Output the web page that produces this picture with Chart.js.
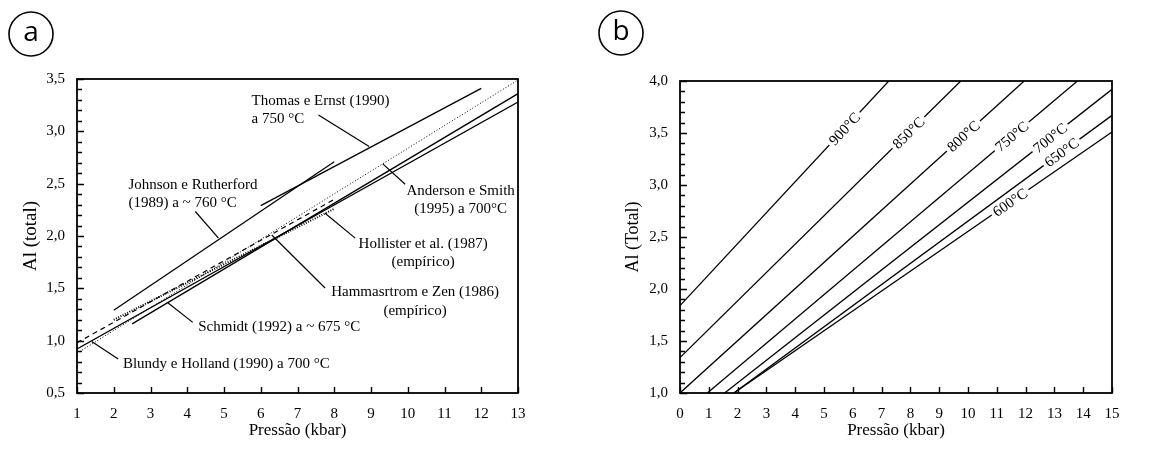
<!DOCTYPE html>
<html>
<head>
<meta charset="utf-8">
<script src="https://cdn.jsdelivr.net/npm/chart.js@4.4.0/dist/chart.umd.min.js"></script>
<style>
  body { margin: 0; background: #fff; width: 1166px; height: 450px; position: relative; overflow: hidden; }
  canvas { position: absolute; top: 0; }
</style>
</head>
<body>
<canvas id="chartA" width="583" height="450" style="left:0"></canvas>
<canvas id="chartB" width="583" height="450" style="left:583px"></canvas>
<script>
// painel a: geobarômetros de Al em hornblenda (P em kbar, Al total)
const nomesA = ['Thomas e Ernst (1990)', 'Johnson e Rutherford (1989)', 'Anderson e Smith (1995)',
                'Hollister et al. (1987)', 'Hammarstrom e Zen (1986)', 'Schmidt (1992)', 'Blundy e Holland (1990)'];
const pressaoA = [[6, 12], [2, 8], [1, 13], [2, 8], [1, 8], [2.5, 13], [1, 13]];
const alA = [[2.29, 3.41], [1.29, 2.71], [0.88, 3.49], [1.20, 2.26], [0.98, 2.35], [1.16, 3.36], [0.92, 3.28]];

// painel b: isotermas (Anderson e Smith 1995)
const temperaturasB = ['900°C', '850°C', '800°C', '750°C', '700°C', '650°C', '600°C'];
const pressaoB = [[0, 7.25], [0, 9.75], [0, 11.95], [0.95, 13.8], [1.55, 15], [1.87, 15], [1.87, 15]];
const alB = [[1.84, 4.0], [1.34, 4.0], [1.0, 4.0], [1.0, 4.0], [1.0, 3.92], [1.0, 3.67], [1.0, 3.51]];

// estilo das linhas do painel a
const estilosA = [
  { borderWidth: 1.3, borderDash: [] },
  { borderWidth: 1.3, borderDash: [] },
  { borderWidth: 1, borderDash: [1, 2] },
  { borderWidth: 2, borderDash: [1, 1.5] },
  { borderWidth: 1.2, borderDash: [5, 4] },
  { borderWidth: 1.3, borderDash: [] },
  { borderWidth: 1.3, borderDash: [] }
];

// anotações do painel a (posições em coordenadas dos eixos)
const notasA = [
  { linhas: ['Thomas e Ernst (1990)', 'a 750 °C'], x: 5.75, y: [3.29, 3.115], align: 'left', seta: [[7.57, 3.157], [8.95, 2.854]] },
  { linhas: ['Johnson e Rutherford', '(1989) a ~ 760 °C'], x: 2.40, y: [2.49, 2.315], align: 'left', seta: [[4.22, 2.234], [4.85, 1.98]] },
  { linhas: ['Anderson e Smith', '(1995) a 700°C'], x: 11.44, y: [2.43, 2.257], align: 'center', seta: [[9.32, 2.689], [9.93, 2.495]] },
  { linhas: ['Hollister et al. (1987)', '(empírico)'], x: 10.42, y: [1.923, 1.747], align: 'center', seta: [[7.75, 2.218], [8.57, 1.98]] },
  { linhas: ['Hammasrtrom e Zen (1986)', '(empírico)'], x: 10.2, y: [1.46, 1.279], align: 'center', seta: [[6.30, 2.01], [7.75, 1.503]] },
  { linhas: ['Schmidt (1992) a ~ 675 °C'], x: 4.30, y: [1.127], align: 'left', seta: [[3.48, 1.36], [4.15, 1.175]] },
  { linhas: ['Blundy e Holland (1990) a 700 °C'], x: 2.25, y: [0.778], align: 'left', seta: [[1.40, 0.993], [2.12, 0.825]] }
];

// posição (pressão) do rótulo de cada isoterma
const posRotulosB = [5.71, 7.93, 9.84, 11.52, 12.85, 13.25, 11.46];

const serif = "'Liberation Serif', 'Times New Roman', serif";
Chart.defaults.color = '#000';
Chart.defaults.font.family = serif;

function ehMaior(v) {
  return Math.abs(v * 2 - Math.round(v * 2)) < 1e-6;
}
function virgula(v) {
  return ehMaior(v) ? v.toFixed(1).replace('.', ',') : '';
}

// moldura + ticks para dentro
const molduraPlugin = {
  id: 'moldura',
  afterDraw(chart) {
    const { ctx, chartArea: a, scales: { x, y } } = chart;
    ctx.save();
    ctx.strokeStyle = '#000';
    ctx.lineWidth = 1.4;
    ctx.beginPath();
    x.ticks.forEach(t => {
      const px = Math.round(x.getPixelForValue(t.value)) + 0.5;
      ctx.moveTo(px, a.bottom);
      ctx.lineTo(px, a.bottom - 6);
    });
    y.ticks.forEach(t => {
      const py = Math.round(y.getPixelForValue(t.value)) + 0.5;
      ctx.moveTo(a.left, py);
      ctx.lineTo(a.left + (ehMaior(t.value) ? 7 : 5), py);
    });
    ctx.stroke();
    ctx.lineWidth = 1.8;
    ctx.strokeRect(a.left, a.top, a.right - a.left, a.bottom - a.top);
    ctx.restore();
  }
};

// letra do painel dentro de um círculo
const letraPlugin = {
  id: 'letra',
  afterDraw(chart, args, opts) {
    const ctx = chart.ctx;
    ctx.save();
    ctx.beginPath();
    ctx.arc(opts.cx, opts.cy, 22, 0, Math.PI * 2);
    ctx.lineWidth = 1.6;
    ctx.strokeStyle = '#000';
    ctx.stroke();
    ctx.fillStyle = '#000';
    ctx.font = "28px 'Open Sans', 'Liberation Sans', sans-serif";
    ctx.textAlign = 'center';
    ctx.textBaseline = 'middle';
    ctx.fillText(opts.texto, opts.cx, opts.cy - 1);
    ctx.restore();
  }
};

const notasPlugin = {
  id: 'notas',
  afterDatasetsDraw(chart) {
    const { ctx, scales: { x, y } } = chart;
    ctx.save();
    ctx.strokeStyle = '#000';
    ctx.fillStyle = '#000';
    ctx.lineWidth = 1.2;
    ctx.font = '15px ' + serif;
    ctx.textBaseline = 'middle';
    notasA.forEach(n => {
      ctx.beginPath();
      ctx.moveTo(x.getPixelForValue(n.seta[0][0]), y.getPixelForValue(n.seta[0][1]));
      ctx.lineTo(x.getPixelForValue(n.seta[1][0]), y.getPixelForValue(n.seta[1][1]));
      ctx.stroke();
      ctx.textAlign = n.align;
      n.linhas.forEach((t, i) => {
        ctx.fillText(t, x.getPixelForValue(n.x), y.getPixelForValue(n.y[i]));
      });
    });
    ctx.restore();
  }
};

const isotermasPlugin = {
  id: 'isotermas',
  afterDatasetsDraw(chart) {
    const { ctx, scales: { x, y } } = chart;
    ctx.save();
    ctx.font = '15px ' + serif;
    ctx.textAlign = 'center';
    ctx.textBaseline = 'middle';
    temperaturasB.forEach((t, i) => {
      const p = pressaoB[i], a = alB[i];
      const x0 = x.getPixelForValue(p[0]), y0 = y.getPixelForValue(a[0]);
      const x1 = x.getPixelForValue(p[1]), y1 = y.getPixelForValue(a[1]);
      const ang = Math.atan2(y1 - y0, x1 - x0);
      const f = (posRotulosB[i] - p[0]) / (p[1] - p[0]);
      const cx = x0 + (x1 - x0) * f, cy = y0 + (y1 - y0) * f;
      const w = ctx.measureText(t).width + 6;
      ctx.save();
      ctx.translate(cx, cy);
      ctx.rotate(ang);
      ctx.fillStyle = '#fff';
      ctx.fillRect(-w / 2, -5, w, 10);
      ctx.fillStyle = '#000';
      ctx.fillText(t, 0, 1);
      ctx.restore();
    });
    ctx.restore();
  }
};

function escalas(xMin, xMax, yMin, yMax, larguraY, tituloY, fonteY, padY) {
  return {
    x: {
      type: 'linear', min: xMin, max: xMax,
      grid: { display: false, drawTicks: false },
      border: { display: false },
      ticks: { stepSize: 1, autoSkip: false, maxRotation: 0, padding: 12, font: { size: 15 } },
      title: { display: true, text: 'Pressão (kbar)', font: { size: 17 }, padding: { top: 0, bottom: 9 } },
      afterFit(s) { s.height = 57; }
    },
    y: {
      type: 'linear', min: yMin, max: yMax,
      grid: { display: false, drawTicks: false },
      border: { display: false },
      ticks: { stepSize: 0.1, autoSkip: false, padding: 12, font: { size: 15 }, callback: virgula },
      title: { display: true, text: tituloY, font: { size: fonteY }, padding: { top: padY, bottom: 0 } },
      afterFit(s) { s.width = larguraY; }
    }
  };
}

const conjuntosA = nomesA.map((nome, i) => ({
  label: nome,
  data: pressaoA[i].map((p, j) => ({ x: p, y: alA[i][j] })),
  showLine: true,
  borderColor: '#000',
  borderWidth: estilosA[i].borderWidth,
  borderDash: estilosA[i].borderDash,
  pointRadius: 0,
  fill: false
}));

const chartA = new Chart(document.getElementById('chartA'), {
  type: 'scatter',
  data: { datasets: conjuntosA },
  options: {
    responsive: false,
    animation: false,
    events: [],
    layout: { padding: { left: 0, right: 65, top: 79, bottom: 0 } },
    scales: escalas(1, 13, 0.5, 3.5, 77, 'Al (total)', 19, 20),
    plugins: {
      legend: { display: false },
      tooltip: { enabled: false },
      letra: { texto: 'a', cx: 31, cy: 34 }
    }
  },
  plugins: [notasPlugin, molduraPlugin, letraPlugin]
});

const conjuntosB = temperaturasB.map((t, i) => ({
  label: t,
  data: pressaoB[i].map((p, j) => ({ x: p, y: alB[i][j] })),
  showLine: true,
  borderColor: '#000',
  borderWidth: 1.3,
  pointRadius: 0,
  fill: false
}));

const chartB = new Chart(document.getElementById('chartB'), {
  type: 'scatter',
  data: { datasets: conjuntosB },
  options: {
    responsive: false,
    animation: false,
    events: [],
    layout: { padding: { left: 0, right: 54, top: 81, bottom: 0 } },
    scales: escalas(0, 15, 1.0, 4.0, 97, 'Al (Total)', 18, 39),
    plugins: {
      legend: { display: false },
      tooltip: { enabled: false },
      letra: { texto: 'b', cx: 38, cy: 33 }
    }
  },
  plugins: [isotermasPlugin, molduraPlugin, letraPlugin]
});
</script>
</body>
</html>
